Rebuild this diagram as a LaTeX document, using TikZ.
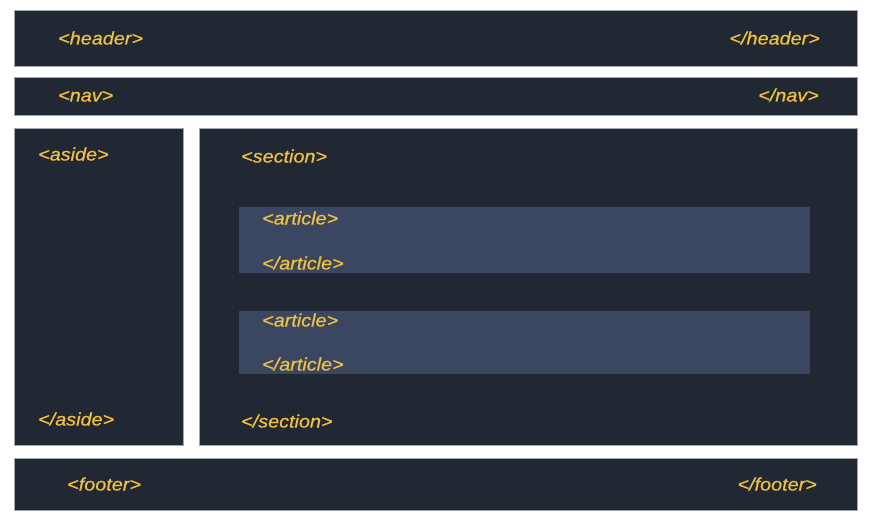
\documentclass[tikz,border=0pt]{standalone}
\usepackage{fontspec}
\setmainfont{Liberation Sans}
\newfontfamily\tagfont{Liberation Sans}[FakeStretch=1.1, FakeBold=0.6]
\usepackage{xcolor}
\usepackage{tikz}
\usetikzlibrary{positioning}
\definecolor{panelbg}{RGB}{34,40,51}
\definecolor{articlebg}{RGB}{59,71,96}
\definecolor{tagcol}{RGB}{240,192,64}
\definecolor{edgecol}{RGB}{160,166,174}

\begin{document}
\begin{tikzpicture}[x=1pt, y=-1pt,
    panel/.style={rectangle, draw=edgecol, line width=0.6pt, fill=panelbg, anchor=north west, inner sep=0pt},
    articlebox/.style={rectangle, fill=articlebg, anchor=north west, inner sep=0pt},
    tag/.style={text=tagcol, font=\tagfont\fontsize{18}{20}\selectfont\itshape, inner sep=0pt, text height=12pt, text depth=2pt, yshift=-1.5pt}
]
\useasboundingbox[fill=white] (0,0) rectangle (872,524);

% boxes
\node[panel, minimum width=843pt, minimum height=56pt] (header) at (14,10) {};
\node[panel, minimum width=843pt, minimum height=38pt] (nav) at (14,77) {};
\node[panel, minimum width=169pt, minimum height=317pt] (aside) at (14,128) {};
\node[panel, minimum width=658pt, minimum height=317pt] (section) at (199,128) {};
\node[articlebox, minimum width=571pt, minimum height=66pt] (article1) at (239,207) {};
\node[articlebox, minimum width=571pt, minimum height=63pt] (article2) at (239,311) {};
\node[panel, minimum width=843pt, minimum height=52pt] (footer) at (14,458) {};

% tags
\node[tag, anchor=west] (headopen) at (58,38) {<header>};
\node[tag, anchor=east] (headclose) at (820,38) {</header>};
\node[tag, anchor=west] (navopen) at (58,95) {<nav>};
\node[tag, anchor=east] (navclose) at (819,95) {</nav>};
\node[tag, anchor=west] (asideopen) at (38,154) {<aside>};
\node[tag, anchor=west] (asideclose) at (38,419) {</aside>};
\node[tag, anchor=west] (secopen) at (241,156) {<section>};
\node[tag, anchor=west] (secclose) at (241,421) {</section>};
\node[tag, anchor=west] (artopen1) at (262,218) {<article>};
\node[tag, anchor=west] (artclose1) at (262,263) {</article>};
\node[tag, anchor=west] (artopen2) at (262,320) {<article>};
\node[tag, anchor=west] (artclose2) at (262,364) {</article>};
\node[tag, anchor=west] (footopen) at (67,484) {<footer>};
\node[tag, anchor=east] (footclose) at (817,484) {</footer>};

\end{tikzpicture}
\end{document}
